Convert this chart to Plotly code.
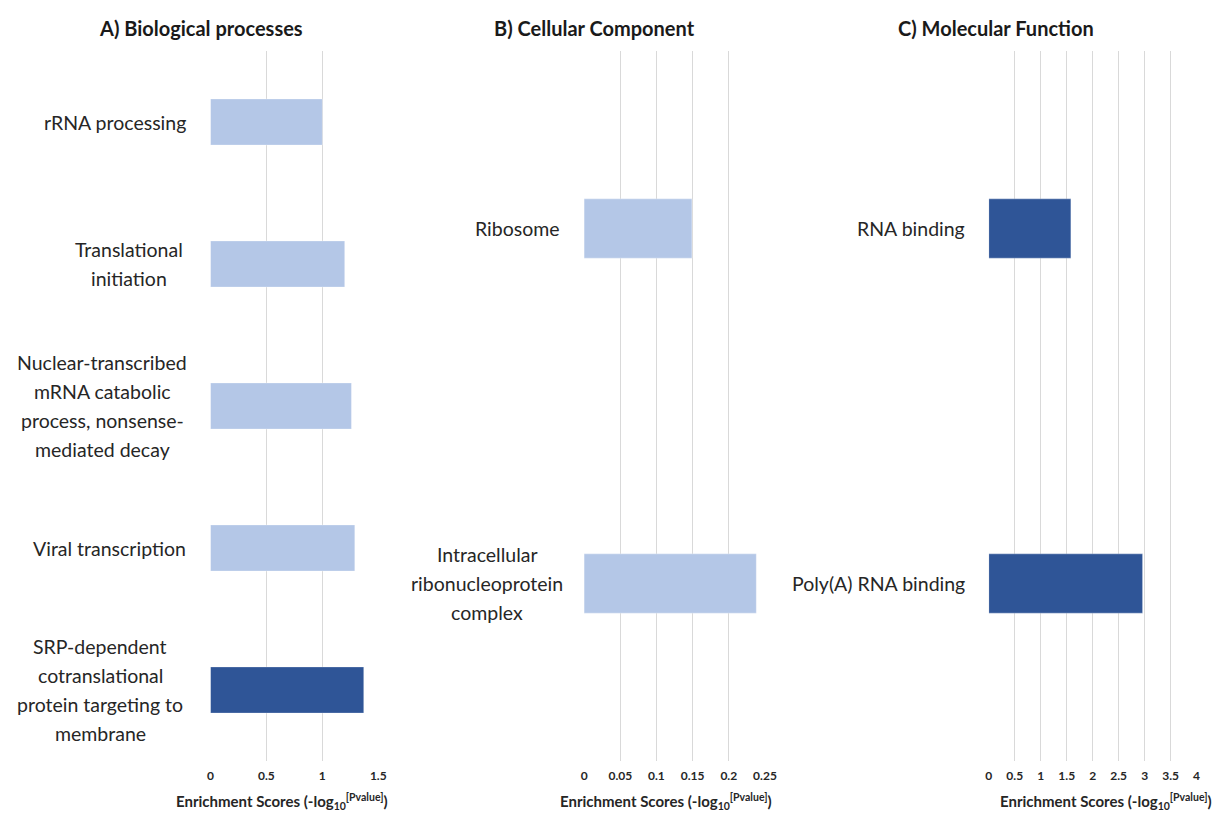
import plotly.graph_objects as go

W, H = 1213, 814

# ---- data ----
bp_terms = ["rRNA processing", "Translational initiation",
            "Nuclear-transcribed mRNA catabolic process, nonsense-mediated decay",
            "Viral transcription",
            "SRP-dependent cotranslational protein targeting to membrane"]
bp_lines = [["rRNA processing"], ["Translational", "initiation"],
            ["Nuclear-transcribed", "mRNA catabolic", "process, nonsense-", "mediated decay"],
            ["Viral transcription"],
            ["SRP-dependent", "cotranslational", "protein targeting to", "membrane"]]
bp_scores = [1.00, 1.20, 1.26, 1.29, 1.37]
bp_dark = [False, False, False, False, True]

cc_terms = ["Ribosome", "Intracellular ribonucleoprotein complex"]
cc_lines = [["Ribosome"], ["Intracellular", "ribonucleoprotein", "complex"]]
cc_scores = [0.149, 0.238]
cc_dark = [False, False]

mf_terms = ["RNA binding", "Poly(A) RNA binding"]
mf_lines = [["RNA binding"], ["Poly(A) RNA binding"]]
mf_scores = [1.58, 2.96]
mf_dark = [True, True]

panel_titles = ["A) Biological processes", "B) Cellular Component", "C) Molecular Function"]
x_ranges = [[0, 1.5], [0, 0.25], [0, 4]]
x_ticks = [[0, 0.5, 1, 1.5], [0, 0.05, 0.1, 0.15, 0.2, 0.25],
           [0, 0.5, 1, 1.5, 2, 2.5, 3, 3.5, 4]]
x_tick_text = [["0", "0.5", "1", "1.5"], ["0", "0.05", "0.1", "0.15", "0.2", "0.25"],
               ["0", "0.5", "1", "1.5", "2", "2.5", "3", "3.5", "4"]]

LIGHT = "#B4C7E7"
DARK = "#2F5597"
FONT = "Lato"
TXT = "#262626"

# ---- layout / style (pixels) ----
EFF_W, X_OFF = 1199.0, 2.4   # horizontal pixel mapping observed in the rendered page


def fx(px):
    return (px - X_OFF) / EFF_W


x_px = [(210, 378), (584, 765), (989, 1197)]
y_px = (51, 761)
title_cx = [201, 594, 996]
axtitle_cx = [282, 666, 1106]
bargaps = [0.675, 0.833, 0.833]
LABEL_GAP = 22
LINE_STEP = 28.7
# horizontal centre offset (from axis start) of multi-line label blocks
block_half = {"Translational initiation": 81,
              "Nuclear-transcribed mRNA catabolic process, nonsense-mediated decay": 108,
              "SRP-dependent cotranslational protein targeting to membrane": 110,
              "Intracellular ribonucleoprotein complex": 97}

fig = go.Figure()
panels = [(bp_terms, bp_lines, bp_scores, bp_dark), (cc_terms, cc_lines, cc_scores, cc_dark),
          (mf_terms, mf_lines, mf_scores, mf_dark)]

ydom = [1 - y_px[1] / H, 1 - y_px[0] / H]
for i, (terms, lines, scores, dark) in enumerate(panels):
    n = i + 1
    xa = "x" if n == 1 else f"x{n}"
    ya = "y" if n == 1 else f"y{n}"
    fig.add_trace(go.Bar(
        y=terms, x=scores, orientation="h",
        marker=dict(color=[DARK if d else LIGHT for d in dark],
                    line=dict(color="rgba(255,255,255,0.3)", width=1)),
        width=1 - bargaps[i],
        xaxis=xa, yaxis=ya, showlegend=False, hoverinfo="x+y"))
    xkey = "xaxis" if n == 1 else f"xaxis{n}"
    ykey = "yaxis" if n == 1 else f"yaxis{n}"
    fig.update_layout(**{
        xkey: dict(domain=[fx(x_px[i][0]), fx(x_px[i][1])], range=x_ranges[i],
                   anchor=ya, tickmode="array", tickvals=x_ticks[i], ticktext=x_tick_text[i],
                   showgrid=True, gridcolor="#D9D9D9", gridwidth=1, zeroline=False,
                   showline=False, ticks="", fixedrange=True, ticklabelstandoff=6,
                   tickfont=dict(family=FONT, size=12, color=TXT, weight="bold")),
        ykey: dict(domain=ydom, anchor=xa, showticklabels=False, fixedrange=True,
                   showgrid=False, zeroline=False, showline=False, ticks="",
                   range=[len(terms) - 0.5, -0.5]),
    })
    # category labels (one text per line for Excel-like line spacing)
    for t, ls in zip(terms, lines):
        nl = len(ls)
        for k, line in enumerate(ls):
            shift = -(k - (nl - 1) / 2) * LINE_STEP
            if nl == 1:
                fig.add_annotation(text=line, x=0, xref=f"{xa} domain", y=t, yref=ya,
                                   xanchor="right", yanchor="middle", xshift=-LABEL_GAP,
                                   yshift=shift, showarrow=False,
                                   font=dict(family=FONT, size=19.5, color=TXT))
            else:
                fig.add_annotation(text=line, x=0, xref=f"{xa} domain", y=t, yref=ya,
                                   xanchor="center", yanchor="middle",
                                   xshift=-block_half[t], yshift=shift, showarrow=False,
                                   font=dict(family=FONT, size=19.5, color=TXT))
    # panel title
    fig.add_annotation(text=f"<b>{panel_titles[i]}</b>", x=fx(title_cx[i]), xref="paper",
                       y=1 - 28 / H, yref="paper", xanchor="center", yanchor="middle",
                       showarrow=False, font=dict(family=FONT, size=20, color="#1a1a1a"))
    # axis title
    fig.add_annotation(text="<b>Enrichment Scores (-log<sub>10</sub><sup>[Pvalue]</sup>)</b>",
                       x=fx(axtitle_cx[i]), xref="paper", y=1 - 801 / H, yref="paper",
                       xanchor="center", yanchor="middle", showarrow=False,
                       font=dict(family=FONT, size=15, color=TXT))

fig.update_layout(width=W, height=H, autosize=False, margin=dict(l=0, r=0, t=0, b=0),
                  plot_bgcolor="white", paper_bgcolor="white",
                  font=dict(family=FONT))

fig.write_html("out.html", config={"responsive": False, "displayModeBar": False},
               post_script="document.body.style.margin='0';document.body.style.overflow='hidden';")
